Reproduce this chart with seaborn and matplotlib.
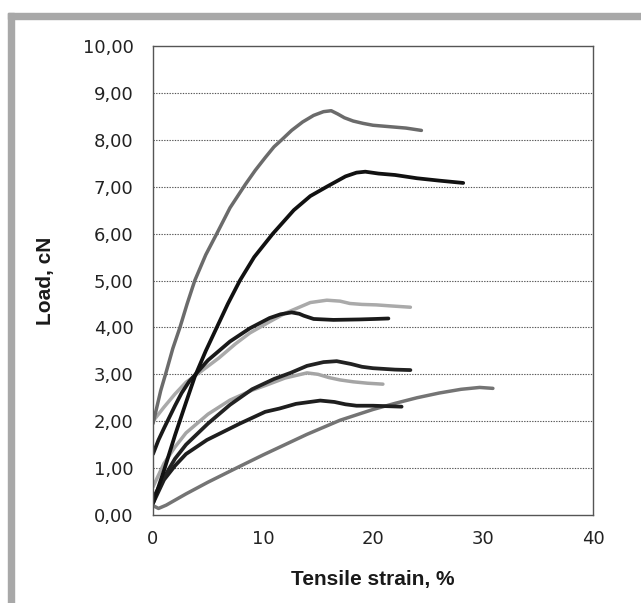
import matplotlib
matplotlib.use("Agg")
import matplotlib.pyplot as plt
import seaborn as sns
import pandas as pd
from matplotlib.patches import Rectangle

# ---- data ----
a_strain = [0, 0.3, 0.7, 1.2, 1.8, 2.45, 3.1, 3.8, 4.8, 5.8, 7.0, 8.4, 9.3, 10.2, 11.0, 11.7, 12.6,
            13.6, 14.6, 15.5, 16.2, 16.8, 17.4, 18.2, 19.1, 20.0, 21.0, 22.0, 23.0, 24.4]
a_load = [1.95, 2.25, 2.65, 3.05, 3.55, 4.0, 4.5, 5.0, 5.55, 6.0, 6.55, 7.05, 7.35, 7.62, 7.85, 8.0, 8.2,
          8.38, 8.52, 8.6, 8.62, 8.55, 8.47, 8.4, 8.35, 8.31, 8.29, 8.27, 8.25, 8.2]

b_strain = [0, 1, 2, 3, 4.3, 6, 7.5, 8.8, 10.6, 12, 13.1, 14.3, 15.8, 17, 17.9, 19, 20.3, 21.5, 23.4]
b_load = [2.0, 2.3, 2.58, 2.83, 3.05, 3.35, 3.65, 3.88, 4.12, 4.3, 4.41, 4.53, 4.58, 4.56, 4.51, 4.49, 4.48, 4.46, 4.43]

c_strain = [0, 0.5, 1, 2, 2.6, 3.3, 5, 7, 8.8, 10.6, 11.6, 12.6, 13.3, 13.7, 14.6, 16.4, 18.8, 20.2, 21.4]
c_load = [1.3, 1.6, 1.85, 2.33, 2.6, 2.85, 3.3, 3.7, 3.98, 4.2, 4.28, 4.32, 4.29, 4.25, 4.18, 4.16, 4.17, 4.18, 4.19]

d_strain = [0, 0.5, 1, 2, 3, 3.8, 4.8, 5.8, 6.8, 7.9, 9.2, 10.9, 12.8, 14.3, 15.8, 17.5, 18.5, 19.3,
            20.5, 22, 24, 26, 28.2]
d_load = [0.25, 0.6, 0.95, 1.7, 2.4, 2.95, 3.5, 4.0, 4.5, 5.0, 5.5, 6.0, 6.5, 6.8, 7.0, 7.22, 7.3, 7.32,
          7.28, 7.25, 7.18, 7.13, 7.08]

e_strain = [0, 1, 2, 3, 5, 7, 9, 11, 12.5, 14, 15.5, 16.7, 18, 19, 20, 22, 23.4]
e_load = [0.35, 0.8, 1.2, 1.5, 1.95, 2.35, 2.68, 2.9, 3.03, 3.18, 3.26, 3.28, 3.22, 3.16, 3.13, 3.1, 3.09]

f_strain = [0, 1, 2, 3, 5, 7, 9, 10.2, 12, 14, 15, 16, 17, 18.2, 19.5, 20.9]
f_load = [0.6, 1.1, 1.45, 1.75, 2.15, 2.45, 2.66, 2.76, 2.92, 3.03, 3.0, 2.93, 2.88, 2.84, 2.81, 2.79]

g_strain = [0, 0.5, 1, 2, 3, 4.9, 7.9, 10.2, 11.5, 13, 15.2, 16.5, 17.5, 18.5, 20, 21.3, 22.6]
g_load = [0.25, 0.5, 0.75, 1.05, 1.3, 1.6, 1.95, 2.2, 2.27, 2.37, 2.44, 2.41, 2.36, 2.33, 2.33, 2.32, 2.31]

h_strain = [0, 0.5, 1.2, 3, 5, 8, 10, 12, 14, 17, 20, 22, 24, 26, 28, 29.7, 30.9]
h_load = [0.2, 0.14, 0.21, 0.45, 0.7, 1.05, 1.28, 1.5, 1.72, 2.02, 2.25, 2.38, 2.5, 2.6, 2.68, 2.72, 2.7]

curve_names = ["A", "B", "C", "D", "E", "F", "G", "H"]
curve_colors = ["#6b6b6b", "#aaaaaa", "#1a1a1a", "#111111", "#222222", "#a5a5a5", "#1e1e1e", "#747474"]

y_ticks = [0, 1, 2, 3, 4, 5, 6, 7, 8, 9, 10]
y_tick_labels = ["0,00", "1,00", "2,00", "3,00", "4,00", "5,00", "6,00", "7,00", "8,00", "9,00", "10,00"]
x_ticks = [0, 10, 20, 30, 40]
x_tick_labels = ["0", "10", "20", "30", "40"]

series = {
    "A": (a_strain, a_load), "B": (b_strain, b_load), "C": (c_strain, c_load), "D": (d_strain, d_load),
    "E": (e_strain, e_load), "F": (f_strain, f_load), "G": (g_strain, g_load), "H": (h_strain, h_load),
}
frames = []
for name in curve_names:
    s, l = series[name]
    frames.append(pd.DataFrame({"strain": s, "load": l, "curve": name}))
df = pd.concat(frames, ignore_index=True)

# ---- plot ----
sns.set_style("white")
plt.rcParams["font.family"] = ["Liberation Sans", "DejaVu Sans"]

fig = plt.figure(figsize=(6.41, 6.03), dpi=100)
ax = fig.add_axes([153 / 641, 1 - 515 / 603, 440 / 641, 469 / 603])

draw_order = ["H", "G", "F", "E", "B", "C", "D", "A"]
palette = dict(zip(curve_names, curve_colors))
widths = {"A": 2.5, "B": 2.5, "C": 2.7, "D": 2.7, "E": 2.7, "F": 2.5, "G": 2.7, "H": 2.5}
for name in draw_order:
    sub = df[df["curve"] == name]
    sns.lineplot(data=sub, x="strain", y="load", color=palette[name], linewidth=widths[name],
                 sort=False, estimator=None, ax=ax, legend=False)
for ln in ax.get_lines():
    ln.set_solid_joinstyle("round")
    ln.set_solid_capstyle("round")

ax.set_xlim(0, 40)
ax.set_ylim(0, 10)
ax.set_xticks(x_ticks)
ax.set_xticklabels(x_tick_labels)
ax.set_yticks(y_ticks)
ax.set_yticklabels(y_tick_labels)

for yv in y_ticks[1:-1]:
    ax.axhline(yv, color="#555555", linewidth=0.8, linestyle=(0, (1.2, 1.2)), zorder=0)

for sp in ax.spines.values():
    sp.set_visible(True)
    sp.set_color("#555555")
    sp.set_linewidth(1.0)

ax.tick_params(axis="both", direction="out", length=5, width=1, color="#555555",
               labelsize=13, labelcolor="#222222")
ax.tick_params(axis="y", pad=9)
ax.tick_params(axis="x", pad=6)
for lab in ax.get_xticklabels() + ax.get_yticklabels():
    lab.set_family(["DejaVu Sans"])

ax.set_xlabel("Tensile strain, %", fontsize=15, fontweight="bold", color="#1a1a1a", labelpad=16)
ax.set_ylabel("Load, cN", fontsize=15, fontweight="bold", color="#1a1a1a", labelpad=20)

# outer gray frame (top and left bars)
fig.add_artist(Rectangle((8 / 641, 1 - 19 / 603), 1 - 8 / 641, 6 / 603,
                         transform=fig.transFigure, color="#a8a8a8", zorder=5))
fig.add_artist(Rectangle((8 / 641, 0), 6 / 641, 1 - 13 / 603,
                         transform=fig.transFigure, color="#a8a8a8", zorder=5))

fig.savefig("out.png", dpi=100)
